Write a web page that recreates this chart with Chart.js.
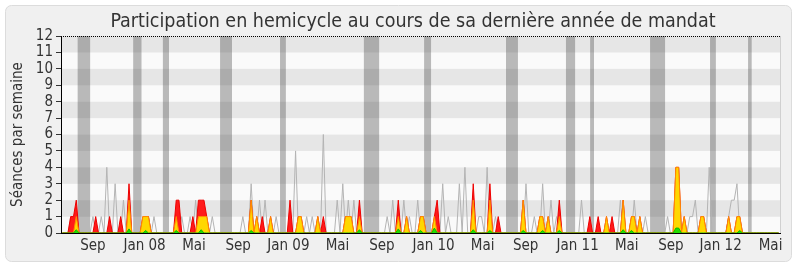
<!DOCTYPE html>
<html>
<head>
<meta charset="utf-8">
<script src="https://cdn.jsdelivr.net/npm/chart.js@4.4.0/dist/chart.umd.min.js"></script>
<style>
  html, body { margin: 0; padding: 0; background: #fff; }
  canvas { display: block; }
</style>
</head>
<body>
<canvas id="participation" width="800" height="267"></canvas>
<script>
// semaines de la législature (index 0 = première semaine)
const nbSemaines = 259;

// étiquettes de l'axe des x (position en semaines)
const tickSemaines = [11, 29.6, 47.4, 63.3, 81.4, 99.1, 115.1, 133.7, 151.4, 166.9, 185.6, 203.3, 219.2, 237.1, 255.1];
const tickTextes = ['Sep', 'Jan 08', 'Mai', 'Sep', 'Jan 09', 'Mai', 'Sep', 'Jan 10', 'Mai', 'Sep', 'Jan 11', 'Mai', 'Sep', 'Jan 12', 'Mai'];

// vacances parlementaires [début, fin] en semaines
const vacances = [[5.5, 10], [25.5, 28.5], [36.2, 38.4], [56.8, 61.1], [78.4, 80.5], [108.6, 114.1],
  [130.3, 132.8], [159.8, 164.1], [181.4, 184.7], [190.1, 191.5], [211.7, 217.1], [233.3, 235.4], [247, 248.3]];

// [semaine, séances]
const mediane = [[3, 1], [11, 1], [14, 1], [16, 4], [19, 3], [22, 2], [31, 1], [33, 1], [43, 1], [46, 1], [48, 2], [54, 1],
  [65, 1], [68, 3], [71, 2], [73, 2], [77, 1], [84, 5], [88, 1], [90, 1], [94, 6], [99, 2], [101, 3], [103, 2], [105, 2],
  [117, 1], [119, 2], [123, 2], [125, 1], [128, 2], [137, 3], [139, 1], [143, 3], [145, 4], [150, 1], [151, 1], [153, 4],
  [156, 1], [167, 3], [170, 1], [173, 3], [176, 2], [178, 1], [187, 2], [201, 2], [206, 2], [210, 1], [218, 1],
  [226, 1], [227, 1], [228, 2], [233, 4], [240, 1], [241, 2], [242, 2], [243, 3]];

const presences = [[3, 1], [4, 1], [5, 2], [12, 1], [17, 1], [21, 1], [24, 3], [29, 1], [30, 1], [31, 1],
  [41, 2], [42, 2], [47, 1], [49, 2], [50, 2], [51, 2], [52, 1],
  [68, 2], [70, 1], [72, 1], [75, 1], [82, 2], [85, 1], [86, 1], [92, 1], [94, 1], [102, 1], [103, 1], [104, 1], [107, 2],
  [121, 2], [124, 1], [129, 1], [130, 1], [134, 1], [135, 2], [148, 3], [154, 3], [157, 1],
  [166, 2], [172, 1], [173, 1], [175, 1], [179, 2], [190, 1], [193, 1], [196, 1], [198, 1], [202, 2], [205, 1], [206, 1],
  [208, 1], [221, 4], [222, 4], [224, 1], [230, 1], [231, 1], [240, 1], [243, 1], [244, 1]];

const interventions = [[5, 1], [24, 2], [29, 1], [30, 1], [31, 1], [41, 1], [49, 1], [50, 1], [51, 1], [52, 1],
  [68, 2], [70, 1], [75, 1], [85, 1], [86, 1], [92, 1], [102, 1], [103, 1], [104, 1], [107, 1],
  [121, 1], [124, 1], [129, 1], [130, 1], [134, 1], [148, 2], [154, 2],
  [166, 2], [172, 1], [173, 1], [175, 1], [179, 1], [196, 1], [202, 2], [205, 1], [206, 1], [208, 1],
  [221, 4], [222, 4], [224, 1], [230, 1], [231, 1], [240, 1], [243, 1], [244, 1]];

const questions = [[5, 0.2], [24, 0.25], [30, 0.15], [41, 0.15], [50, 0.2], [68, 0.15], [107, 0.2], [121, 0.25],
  [129, 0.15], [134, 0.3], [148, 0.2], [154, 0.15], [166, 0.15], [173, 0.15], [179, 0.15], [202, 0.2], [205, 0.15],
  [221, 0.3], [222, 0.3], [244, 0.15]];

const titre = 'Participation en hemicycle au cours de sa dernière année de mandat';

const serie = paires => {
  const valeurs = new Array(nbSemaines).fill(0);
  paires.forEach(([s, v]) => { valeurs[s] = v; });
  return valeurs.map((v, i) => ({ x: i, y: v }));
};

const police = '"DejaVu Sans Condensed", "DejaVu Sans", sans-serif';

const fond = {
  id: 'fond',
  beforeDraw(chart) {
    const { ctx, chartArea: a, scales: { x, y } } = chart;
    ctx.save();
    ctx.fillStyle = '#fff';
    ctx.fillRect(0, 0, chart.width, chart.height);
    ctx.beginPath();
    ctx.roundRect(5.5, 5.5, 786, 256, 6);
    ctx.fillStyle = '#f0f0f0';
    ctx.fill();
    ctx.strokeStyle = '#dcdcdc';
    ctx.stroke();

    // titre
    ctx.fillStyle = '#333';
    ctx.font = '19.5px ' + police;
    ctx.textAlign = 'center';
    ctx.textBaseline = 'alphabetic';
    ctx.fillText(titre, 413, 27);

    for (let k = 0; k < 12; k++) {
      const y0 = y.getPixelForValue(k), y1 = y.getPixelForValue(k + 1);
      ctx.fillStyle = k % 2 ? '#e6e6e6' : '#fafafa';
      ctx.fillRect(a.left, y1, a.right - a.left, y0 - y1);
    }
    ctx.fillStyle = 'rgba(50, 50, 50, 0.32)';
    vacances.forEach(([d, f]) => {
      const x0 = x.getPixelForValue(d), x1 = x.getPixelForValue(f);
      ctx.fillRect(x0, a.top, x1 - x0, a.bottom - a.top);
    });
    ctx.restore();
  },
  afterDatasetsDraw(chart) {
    const { ctx, chartArea: a, scales: { y } } = chart;
    ctx.save();
    ctx.strokeStyle = '#000';
    ctx.lineWidth = 1;
    ctx.setLineDash([1, 1]);
    const yt = Math.round(y.getPixelForValue(12)) + 0.5;
    ctx.beginPath();
    ctx.moveTo(a.left, yt);
    ctx.lineTo(a.right, yt);
    ctx.stroke();
    ctx.setLineDash([]);
    ctx.strokeStyle = '#d0d0d0';
    ctx.beginPath();
    ctx.moveTo(Math.round(a.right) + 0.5, a.top);
    ctx.lineTo(Math.round(a.right) + 0.5, a.bottom);
    ctx.stroke();
    ctx.restore();
  }
};

new Chart(document.getElementById('participation'), {
  type: 'line',
  data: {
    datasets: [
      { data: serie(questions), backgroundColor: '#22dd00', borderColor: '#11bb00', fill: 'origin' },
      { data: serie(interventions), backgroundColor: '#ffd700', borderColor: '#ff8c00', fill: 'origin' },
      { data: serie(presences), backgroundColor: '#ff1a1a', borderColor: '#ee0000', fill: 'origin' },
      { data: serie(mediane), backgroundColor: 'transparent', borderColor: '#b4b4b4', fill: false }
    ]
  },
  options: {
    responsive: false,
    animation: false,
    devicePixelRatio: 1,
    layout: { padding: { left: 0, right: 20, top: 36, bottom: 0 } },
    elements: {
      line: { tension: 0, borderWidth: 1 },
      point: { radius: 0, hoverRadius: 0 }
    },
    scales: {
      x: {
        type: 'linear',
        min: -0.5,
        max: 258.5,
        afterBuildTicks: s => { s.ticks = tickSemaines.map(v => ({ value: v })); },
        afterFit: s => { s.height = 34; },
        ticks: {
          autoSkip: false,
          maxRotation: 0,
          padding: 4,
          color: '#333',
          font: { family: police, size: 15 },
          callback: v => tickTextes[tickSemaines.indexOf(v)]
        },
        grid: { display: false, drawTicks: false },
        border: { display: true, color: '#000', width: 1 }
      },
      y: {
        min: 0,
        max: 12,
        afterFit: s => { s.width = 61; },
        ticks: {
          stepSize: 1,
          autoSkip: false,
          padding: 3,
          color: '#333',
          font: { family: police, size: 15 }
        },
        grid: { drawOnChartArea: false, drawTicks: true, tickLength: 5, color: '#333' },
        border: { display: true, color: '#000', width: 1 },
        title: {
          display: true,
          text: 'Séances par semaine',
          color: '#333',
          font: { family: police, size: 15 },
          padding: { top: 9, bottom: 0 }
        }
      }
    },
    plugins: {
      legend: { display: false },
      tooltip: { enabled: false },
      title: { display: false }
    }
  },
  plugins: [fond]
});
</script>
